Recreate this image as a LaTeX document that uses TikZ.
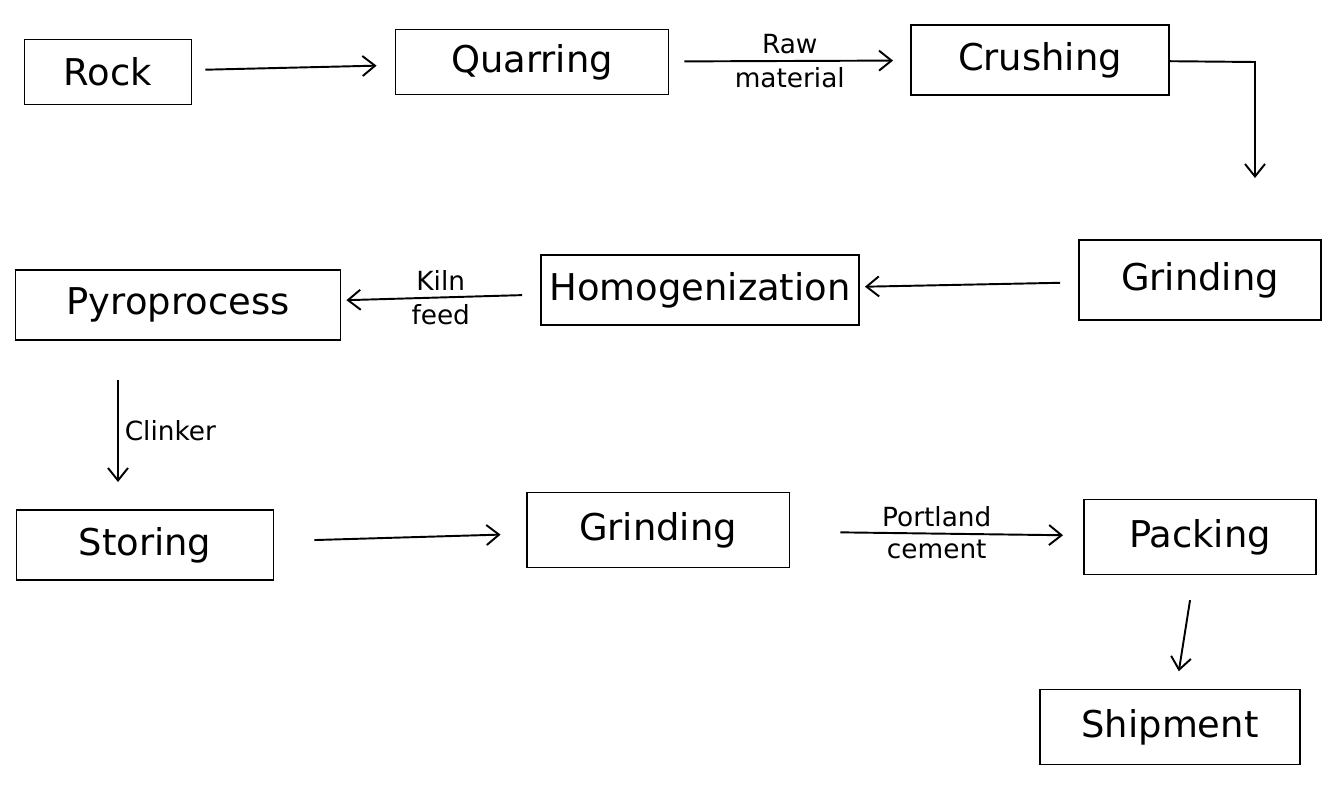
\documentclass[tikz,border=0pt]{standalone}
\usepackage{fontspec}
\setmainfont{DejaVu Sans}
\usetikzlibrary{arrows.meta}

\begin{document}
\begin{tikzpicture}
  [x=0.02cm,y=-0.02cm,
   box/.style={draw,line width=1.1pt,inner sep=2pt,font=\fontsize{21}{25}\selectfont},
   lab/.style={font=\fontsize{15}{18}\selectfont},
   flow/.style={-{Straight Barb[length=2.5mm,width=4mm]},line width=1.1pt}]
  \useasboundingbox[fill=white] (0,0) rectangle (1341,804);

  \node[box,minimum width=3.34cm,minimum height=1.3cm] (rock) at (108,72) {Rock};
  \node[box,minimum width=5.46cm,minimum height=1.3cm] (quarry) at (532,62) {Quarring};
  \node[box,minimum width=5.16cm,minimum height=1.4cm] (crush) at (1040,60) {Crushing};
  \node[box,minimum width=4.84cm,minimum height=1.6cm] (grind1) at (1200,280) {Grinding};
  \node[box,minimum width=6.36cm,minimum height=1.4cm] (homog) at (700,290) {Homogenization};
  \node[box,minimum width=6.5cm,minimum height=1.4cm] (pyro) at (178,305) {Pyroprocess};
  \node[box,minimum width=5.14cm,minimum height=1.4cm] (store) at (145,545) {Storing};
  \node[box,minimum width=5.26cm,minimum height=1.5cm] (grind2) at (658,530) {Grinding};
  \node[box,minimum width=4.64cm,minimum height=1.5cm] (pack) at (1200,537) {Packing};
  \node[box,minimum width=5.2cm,minimum height=1.5cm] (ship) at (1170,727) {Shipment};

  \coordinate (bend) at (1255,62);

  \draw[flow,shorten <=0.26cm,shorten >=0.36cm] (rock) -- (quarry);
  \draw[flow,shorten <=0.3cm,shorten >=0.34cm] (quarry) -- (crush)
    node[midway,above,lab] {Raw} node[midway,below,lab] {material};
  \draw[flow] (crush) -- (bend) -- (1255,178);
  \draw[flow,shorten <=0.36cm,shorten >=0.1cm] (grind1) -- (homog);
  \draw[flow,shorten <=0.36cm,shorten >=0.1cm] (homog) -- (pyro)
    node[midway,above,lab] {Kiln} node[midway,below,lab] {feed};
  \draw[flow] (118,380) -- (118,482)
    node[midway,right,lab] {Clinker};
  \draw[flow,shorten <=0.8cm,shorten >=0.5cm] (store) -- (grind2);
  \draw[flow,shorten <=1.0cm,shorten >=0.4cm] (grind2) -- (pack)
    node[midway,above,lab] {Portland} node[midway,below,lab] {cement};
  \draw[flow,shorten <=0.5cm,shorten >=0.35cm] (pack) -- (ship);
\end{tikzpicture}
\end{document}
